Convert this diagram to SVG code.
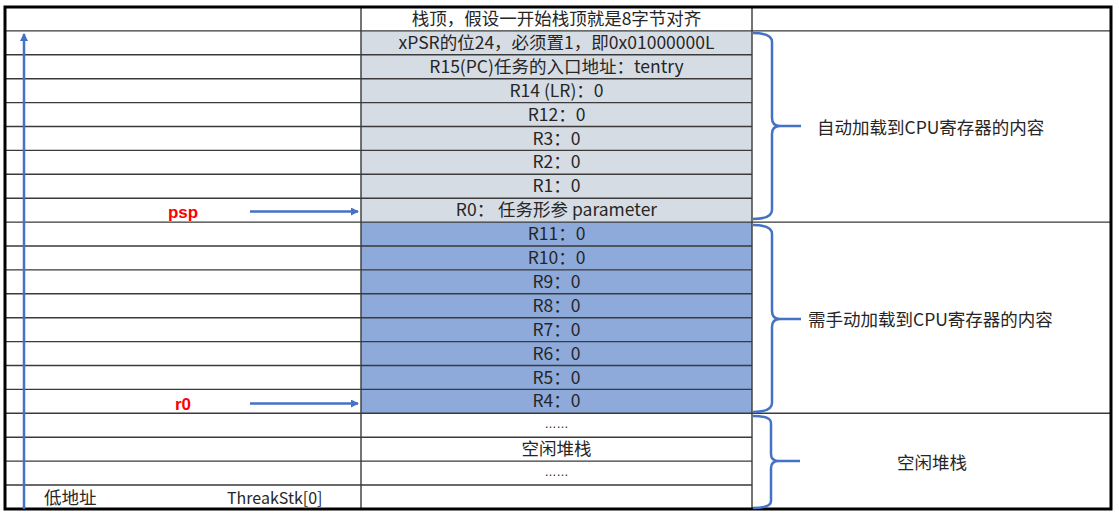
<svg xmlns="http://www.w3.org/2000/svg" width="1119" height="517" viewBox="0 0 1119 517">
  <style>
    .grid { stroke: #3a3a3a; stroke-width: 1.4; fill: none; }
    .border { stroke: #000; stroke-width: 3; fill: none; }
    .t { font-family: "Noto Sans CJK SC", "Noto Sans", sans-serif; font-size: 17.5px; fill: #262626; text-anchor: middle; }
    .ts { font-family: "Noto Sans CJK SC", "Noto Sans", sans-serif; font-size: 17.5px; fill: #262626; }
    .dots { font-family: "Liberation Sans", sans-serif; font-size: 12px; fill: #262626; text-anchor: middle; }
    .red { font-family: "Liberation Sans", "Noto Sans CJK SC", sans-serif; font-size: 17px; font-weight: bold; fill: #ff0000; text-anchor: middle; }
    .blue { stroke: #4472c4; stroke-width: 2.5; fill: none; }
    .brace { stroke: #4472c4; stroke-width: 2.5; fill: none; stroke-linejoin: round; }
  </style>
  <defs>
    <marker id="arrow" markerWidth="8" markerHeight="8" refX="7" refY="4" orient="auto" markerUnits="userSpaceOnUse" viewBox="0 0 8 8">
      <path d="M0,0 L8,4 L0,8 Z" fill="#4472c4"/>
    </marker>
  </defs>
  <rect x="0" y="0" width="1119" height="517" fill="#fff"/>

  <!-- cell fills -->
  <g id="fills">
    <rect x="361" y="30.9" width="391" height="191.2" fill="#d6dce4"/>
    <rect x="361" y="222.1" width="391" height="191.2" fill="#8eaadb"/>
  </g>

  <!-- table grid -->
  <g id="grid">
    <path class="grid" d="M5,30.9H1111 M5,54.8H752 M5,78.7H752 M5,102.6H752 M5,126.5H752 M5,150.4H752 M5,174.3H752 M5,198.2H752 M5,222.1H1111 M5,246H752 M5,269.9H752 M5,293.8H752 M5,317.7H752 M5,341.6H752 M5,365.5H752 M5,389.4H752 M5,413.3H1111 M5,437.2H752 M5,461.1H752 M5,485H752"/>
    <path class="grid" d="M361,7V509 M752,7V509"/>
    <rect class="border" x="5" y="7" width="1106" height="502"/>
  </g>

  <!-- stack cells -->
  <g id="cells">
    <text class="t" x="556.5" y="25">栈顶，假设一开始栈顶就是8字节对齐</text>
    <text class="t" x="556.5" y="48.9">xPSR的位24，必须置1，即0x01000000L</text>
    <text class="t" x="556.5" y="72.8">R15(PC)任务的入口地址：tentry</text>
    <text class="t" x="556.5" y="96.7">R14 (LR)：0</text>
    <text class="t" x="556.5" y="120.6">R12：0</text>
    <text class="t" x="556.5" y="144.5">R3：0</text>
    <text class="t" x="556.5" y="168.4">R2：0</text>
    <text class="t" x="556.5" y="192.3">R1：0</text>
    <text class="t" x="556.5" y="216.2">R0： 任务形参 parameter</text>
    <text class="t" x="556.5" y="240.1">R11：0</text>
    <text class="t" x="556.5" y="264">R10：0</text>
    <text class="t" x="556.5" y="287.9">R9：0</text>
    <text class="t" x="556.5" y="311.8">R8：0</text>
    <text class="t" x="556.5" y="335.7">R7：0</text>
    <text class="t" x="556.5" y="359.6">R6：0</text>
    <text class="t" x="556.5" y="383.5">R5：0</text>
    <text class="t" x="556.5" y="407.4">R4：0</text>
    <text class="dots" x="556.5" y="428">……</text>
    <text class="t" x="556.5" y="455.2">空闲堆栈</text>
    <text class="dots" x="556.5" y="476">……</text>
  </g>

  <!-- left column labels -->
  <g id="pointers">
    <text class="red" x="183" y="218">psp</text>
    <text class="red" x="183" y="410">r0</text>
    <text class="ts" x="44" y="504">低地址</text>
    <text class="ts" x="227" y="504" style="font-size:16px">ThreakStk[0]</text>
  </g>

  <!-- right column group labels -->
  <g id="groups">
    <text class="ts" x="817" y="134">自动加载到CPU寄存器的内容</text>
    <text class="ts" x="808" y="326">需手动加载到CPU寄存器的内容</text>
    <text class="t" x="932" y="469">空闲堆栈</text>
  </g>

  <!-- connectors -->
  <g id="connectors">
    <line class="blue" x1="24" y1="509" x2="24" y2="34" marker-end="url(#arrow)"/>
    <line class="blue" x1="250" y1="211.5" x2="358" y2="211.5" marker-end="url(#arrow)"/>
    <line class="blue" x1="250" y1="403.5" x2="358" y2="403.5" marker-end="url(#arrow)"/>
    <path class="brace" d="M753,33 Q772,33 772,42 V118 Q772,126 780,126 H801 M780,126 Q772,126 772,134 V210 Q772,219 753,219"/>
    <path class="brace" d="M753,225 Q772,225 772,234 V311 Q772,319 780,319 H801 M780,319 Q772,319 772,327 V403 Q772,412 753,412"/>
    <path class="brace" d="M753,416 Q771,416 771,423 V454 Q771,461 779,461 H800 M779,461 Q771,461 771,468 V501 Q771,508 753,508"/>
  </g>
</svg>
